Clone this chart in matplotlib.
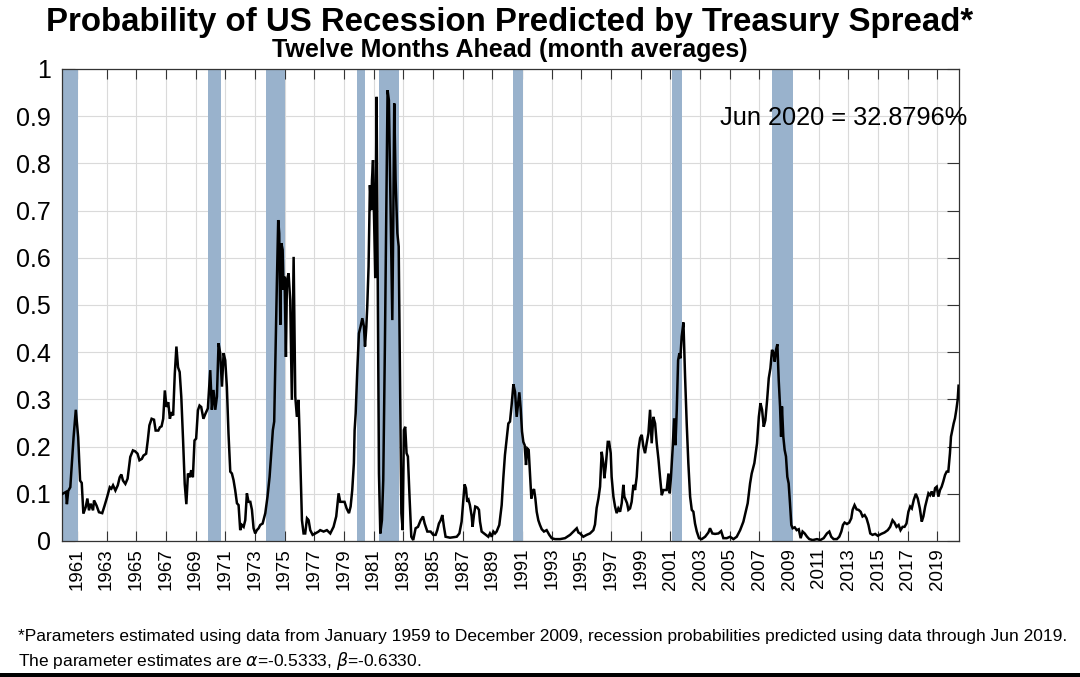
import matplotlib
matplotlib.use("Agg")
import matplotlib.pyplot as plt
from matplotlib.patches import Rectangle
import numpy as np

plt.rcParams['font.family'] = ['Liberation Sans', 'DejaVu Sans']

# ---- data ----
years_1960s = [1960.04, 1960.27, 1960.33, 1960.42, 1960.56, 1960.78, 1960.93, 1961.09, 1961.22, 1961.33,
               1961.44, 1961.60, 1961.71, 1961.82, 1961.93, 1962.09, 1962.16, 1962.33, 1962.49, 1962.71,
               1962.87, 1963.04, 1963.22, 1963.33, 1963.44, 1963.60, 1963.76, 1963.89, 1964.00, 1964.11,
               1964.27, 1964.42, 1964.60, 1964.78, 1964.93, 1965.09, 1965.22, 1965.38, 1965.49, 1965.67,
               1965.78, 1965.89, 1966.04, 1966.20, 1966.31, 1966.49, 1966.60, 1966.71, 1966.82, 1966.93,
               1967.04, 1967.16, 1967.27, 1967.38, 1967.49, 1967.60, 1967.71, 1967.82, 1967.93, 1968.04,
               1968.16, 1968.27, 1968.38, 1968.49, 1968.60, 1968.71, 1968.82, 1968.93, 1969.04, 1969.16,
               1969.27, 1969.38, 1969.53, 1969.67, 1969.83, 1969.99]
prob_1960s = [0.100, 0.104, 0.078, 0.106, 0.114, 0.220, 0.278, 0.220, 0.128, 0.123,
              0.058, 0.072, 0.090, 0.065, 0.079, 0.065, 0.086, 0.075, 0.061, 0.059,
              0.075, 0.093, 0.114, 0.111, 0.118, 0.107, 0.118, 0.135, 0.141, 0.128,
              0.121, 0.132, 0.178, 0.192, 0.190, 0.185, 0.171, 0.174, 0.181, 0.185,
              0.213, 0.245, 0.259, 0.257, 0.234, 0.234, 0.241, 0.243, 0.259, 0.319,
              0.284, 0.294, 0.259, 0.273, 0.266, 0.354, 0.412, 0.368, 0.358, 0.305,
              0.213, 0.121, 0.078, 0.143, 0.135, 0.150, 0.135, 0.213, 0.217, 0.277,
              0.287, 0.284, 0.259, 0.270, 0.281, 0.362]

years_1970s = [1970.10, 1970.21, 1970.33, 1970.44, 1970.55, 1970.66, 1970.78, 1970.89, 1971.00, 1971.11,
               1971.22, 1971.34, 1971.45, 1971.56, 1971.67, 1971.79, 1971.90, 1972.01, 1972.12, 1972.24,
               1972.35, 1972.46, 1972.57, 1972.69, 1972.80, 1972.91, 1973.02, 1973.13, 1973.25, 1973.36,
               1973.52, 1973.70, 1973.85, 1973.99, 1974.10, 1974.21, 1974.30, 1974.37, 1974.48, 1974.57,
               1974.64, 1974.71, 1974.78, 1974.87, 1974.93, 1975.00, 1975.09, 1975.16, 1975.27, 1975.38,
               1975.49, 1975.61, 1975.72, 1975.83, 1975.94, 1976.01, 1976.10, 1976.17, 1976.28, 1976.39,
               1976.51, 1976.62, 1976.73, 1976.89, 1977.07, 1977.29, 1977.40, 1977.63, 1977.85, 1978.08,
               1978.30, 1978.48, 1978.64, 1978.75, 1978.87, 1979.04, 1979.18, 1979.34, 1979.45, 1979.56,
               1979.67, 1979.72, 1979.79, 1979.90]
prob_1970s = [0.278, 0.320, 0.278, 0.306, 0.419, 0.398, 0.327, 0.398, 0.383, 0.327,
              0.228, 0.147, 0.143, 0.129, 0.108, 0.080, 0.076, 0.023, 0.034, 0.030,
              0.044, 0.101, 0.083, 0.083, 0.066, 0.027, 0.016, 0.023, 0.027, 0.034,
              0.037, 0.059, 0.094, 0.136, 0.186, 0.235, 0.253, 0.369, 0.546, 0.680,
              0.652, 0.458, 0.631, 0.617, 0.532, 0.560, 0.390, 0.553, 0.567, 0.510,
              0.299, 0.602, 0.306, 0.263, 0.299, 0.228, 0.122, 0.044, 0.016, 0.016,
              0.048, 0.044, 0.023, 0.013, 0.016, 0.020, 0.023, 0.020, 0.023, 0.016,
              0.030, 0.052, 0.101, 0.083, 0.083, 0.083, 0.069, 0.059, 0.073, 0.108,
              0.165, 0.235, 0.270, 0.362]

years_1980s = [1980.01, 1980.12, 1980.24, 1980.35, 1980.42, 1980.51, 1980.57, 1980.66, 1980.75, 1980.84,
               1980.89, 1980.96, 1981.02, 1981.11, 1981.20, 1981.29, 1981.36, 1981.45, 1981.56, 1981.65,
               1981.76, 1981.85, 1981.94, 1982.03, 1982.15, 1982.26, 1982.33, 1982.39, 1982.48, 1982.60,
               1982.69, 1982.78, 1982.87, 1982.96, 1983.04, 1983.13, 1983.22, 1983.31, 1983.43, 1983.54,
               1983.67, 1983.83, 1983.99, 1984.17, 1984.33, 1984.44, 1984.62, 1984.84, 1985.02, 1985.18,
               1985.29, 1985.40, 1985.52, 1985.63, 1985.74, 1985.85, 1986.15, 1986.37, 1986.60, 1986.78,
               1986.93, 1987.04, 1987.13, 1987.22, 1987.31, 1987.40, 1987.49, 1987.61, 1987.67, 1987.76,
               1987.85, 1987.99, 1988.10, 1988.17, 1988.28, 1988.44, 1988.57, 1988.73, 1988.84, 1988.96,
               1989.07, 1989.18, 1989.29, 1989.47, 1989.63, 1989.74, 1989.85, 1989.97]
prob_1980s = [0.440, 0.454, 0.472, 0.454, 0.412, 0.454, 0.496, 0.581, 0.754, 0.701,
              0.765, 0.807, 0.701, 0.557, 0.941, 0.482, 0.143, 0.016, 0.044, 0.129,
              0.412, 0.694, 0.955, 0.934, 0.694, 0.468, 0.694, 0.927, 0.765, 0.652,
              0.624, 0.341, 0.059, 0.023, 0.235, 0.242, 0.186, 0.179, 0.087, 0.009,
              0.002, 0.027, 0.030, 0.044, 0.052, 0.037, 0.020, 0.020, 0.013, 0.013,
              0.023, 0.037, 0.044, 0.055, 0.030, 0.009, 0.007, 0.008, 0.009, 0.016,
              0.041, 0.083, 0.120, 0.112, 0.083, 0.087, 0.076, 0.052, 0.030, 0.055,
              0.073, 0.071, 0.066, 0.041, 0.020, 0.016, 0.013, 0.009, 0.016, 0.009,
              0.020, 0.016, 0.020, 0.034, 0.076, 0.133, 0.182, 0.218]

years_1990s = [1990.08, 1990.19, 1990.30, 1990.42, 1990.53, 1990.64, 1990.73, 1990.82, 1990.91, 1991.00,
               1991.09, 1991.18, 1991.27, 1991.36, 1991.45, 1991.54, 1991.63, 1991.72, 1991.81, 1991.90,
               1991.99, 1992.10, 1992.21, 1992.33, 1992.48, 1992.66, 1992.84, 1993.00, 1993.22, 1993.56,
               1993.90, 1994.24, 1994.46, 1994.69, 1994.80, 1994.91, 1995.13, 1995.36, 1995.58, 1995.81,
               1995.92, 1996.03, 1996.15, 1996.26, 1996.37, 1996.48, 1996.55, 1996.64, 1996.78, 1996.87,
               1996.98, 1997.04, 1997.16, 1997.27, 1997.38, 1997.49, 1997.61, 1997.72, 1997.83, 1997.90,
               1997.99, 1998.08, 1998.17, 1998.28, 1998.39, 1998.51, 1998.62, 1998.73, 1998.84, 1998.96,
               1999.07, 1999.18, 1999.29, 1999.40, 1999.52, 1999.63, 1999.74, 1999.85, 1999.97]
prob_1990s = [0.249, 0.253, 0.288, 0.332, 0.316, 0.263, 0.288, 0.315, 0.281, 0.232,
              0.210, 0.203, 0.161, 0.196, 0.193, 0.140, 0.090, 0.105, 0.110, 0.090,
              0.062, 0.044, 0.034, 0.025, 0.020, 0.023, 0.013, 0.006, 0.004, 0.004,
              0.006, 0.013, 0.020, 0.027, 0.018, 0.016, 0.009, 0.013, 0.016, 0.023,
              0.035, 0.070, 0.090, 0.115, 0.189, 0.165, 0.133, 0.157, 0.210, 0.210,
              0.186, 0.136, 0.094, 0.073, 0.059, 0.069, 0.062, 0.080, 0.119, 0.094,
              0.087, 0.080, 0.066, 0.069, 0.083, 0.119, 0.108, 0.136, 0.193, 0.218,
              0.225, 0.200, 0.186, 0.207, 0.228, 0.278, 0.207, 0.263, 0.249]

years_2000s = [2000.08, 2000.20, 2000.30, 2000.42, 2000.53, 2000.64, 2000.75, 2000.87, 2000.96, 2001.04,
               2001.16, 2001.25, 2001.34, 2001.43, 2001.52, 2001.61, 2001.67, 2001.76, 2001.88, 2001.99,
               2002.10, 2002.21, 2002.33, 2002.44, 2002.55, 2002.66, 2002.78, 2002.93, 2003.11, 2003.34,
               2003.56, 2003.67, 2003.83, 2004.01, 2004.24, 2004.42, 2004.57, 2004.80, 2005.02, 2005.25,
               2005.47, 2005.70, 2005.92, 2006.08, 2006.21, 2006.37, 2006.48, 2006.66, 2006.84, 2006.96,
               2007.07, 2007.18, 2007.29, 2007.40, 2007.52, 2007.63, 2007.74, 2007.85, 2007.96, 2008.03,
               2008.12, 2008.21, 2008.30, 2008.39, 2008.46, 2008.52, 2008.61, 2008.70, 2008.79, 2008.88,
               2008.97, 2009.06, 2009.15, 2009.24, 2009.38, 2009.51, 2009.65, 2009.78, 2009.91]
prob_2000s = [0.207, 0.172, 0.136, 0.097, 0.108, 0.108, 0.108, 0.143, 0.101, 0.136,
              0.200, 0.260, 0.203, 0.278, 0.383, 0.398, 0.387, 0.433, 0.463, 0.348,
              0.249, 0.165, 0.094, 0.066, 0.062, 0.037, 0.020, 0.006, 0.004, 0.009,
              0.018, 0.027, 0.016, 0.015, 0.016, 0.021, 0.006, 0.006, 0.009, 0.004,
              0.009, 0.023, 0.041, 0.062, 0.080, 0.122, 0.143, 0.165, 0.207, 0.263,
              0.292, 0.278, 0.242, 0.256, 0.299, 0.345, 0.366, 0.405, 0.398, 0.380,
              0.405, 0.417, 0.341, 0.285, 0.221, 0.285, 0.221, 0.193, 0.179, 0.136,
              0.122, 0.080, 0.034, 0.027, 0.029, 0.023, 0.025, 0.006, 0.020]

years_2010s = [2010.05, 2010.21, 2010.36, 2010.59, 2010.88, 2011.10, 2011.33, 2011.55, 2011.71, 2011.84,
               2012.00, 2012.22, 2012.38, 2012.52, 2012.63, 2012.74, 2012.90, 2013.05, 2013.19, 2013.28,
               2013.41, 2013.55, 2013.68, 2013.82, 2013.95, 2014.09, 2014.22, 2014.35, 2014.47, 2014.62,
               2014.80, 2014.98, 2015.21, 2015.43, 2015.65, 2015.81, 2015.97, 2016.10, 2016.24, 2016.38,
               2016.51, 2016.65, 2016.78, 2016.91, 2017.04, 2017.16, 2017.27, 2017.40, 2017.54, 2017.67,
               2017.81, 2017.94, 2018.05, 2018.17, 2018.30, 2018.39, 2018.50, 2018.61, 2018.73, 2018.84,
               2018.95, 2019.06, 2019.17, 2019.28, 2019.39, 2019.51, 2019.62, 2019.73, 2019.84, 2019.91,
               2020.00, 2020.09, 2020.18, 2020.27, 2020.36, 2020.42]
prob_2010s = [0.016, 0.009, 0.004, 0.002, 0.004, 0.002, 0.006, 0.016, 0.020, 0.009,
              0.004, 0.004, 0.009, 0.020, 0.034, 0.039, 0.036, 0.039, 0.048, 0.066,
              0.076, 0.067, 0.066, 0.062, 0.052, 0.055, 0.048, 0.034, 0.016, 0.013,
              0.015, 0.011, 0.015, 0.018, 0.023, 0.030, 0.044, 0.039, 0.030, 0.034,
              0.023, 0.030, 0.030, 0.037, 0.062, 0.073, 0.069, 0.087, 0.100, 0.090,
              0.069, 0.041, 0.052, 0.073, 0.090, 0.101, 0.097, 0.105, 0.094, 0.112,
              0.115, 0.094, 0.108, 0.115, 0.126, 0.140, 0.147, 0.147, 0.186, 0.221,
              0.235, 0.249, 0.260, 0.278, 0.299, 0.329]

recession_starts = [1960.00, 1969.84, 1973.75, 1979.90, 1981.38, 1990.41, 2001.08, 2007.84]
recession_ends = [1961.08, 1970.71, 1975.05, 1980.42, 1982.73, 1991.04, 2001.75, 2009.28]

tick_years = list(range(1961, 2020, 2))
y_ticks = [0, 0.1, 0.2, 0.3, 0.4, 0.5, 0.6, 0.7, 0.8, 0.9, 1]
y_tick_labels = ['0', '0.1', '0.2', '0.3', '0.4', '0.5', '0.6', '0.7', '0.8', '0.9', '1']

title = 'Probability of US Recession Predicted by Treasury Spread*'
subtitle = 'Twelve Months Ahead (month averages)'
annotation = 'Jun 2020 = 32.8796%'
footnote1 = ('*Parameters estimated using data from January 1959 to December 2009, '
             'recession probabilities predicted using data through Jun 2019.')
footnote2 = r'The parameter estimates are $\alpha$=-0.5333, $\beta$=-0.6330.'

# ---- figure ----
W, H = 1080, 677
fig = plt.figure(figsize=(W / 100, H / 100), dpi=100)
fig.patch.set_facecolor('white')

ax = fig.add_axes([62 / W, 1 - 541 / H, (959 - 62) / W, (541 - 69) / H])

x = np.concatenate([years_1960s, years_1970s, years_1980s, years_1990s, years_2000s, years_2010s])
y = np.concatenate([prob_1960s, prob_1970s, prob_1980s, prob_1990s, prob_2000s, prob_2010s])

for s, e in zip(recession_starts, recession_ends):
    ax.axvspan(s, e, color='#99b2cc', lw=0, zorder=1)

ax.plot(x, y, color='black', lw=1.8, zorder=3, solid_joinstyle='miter')

ax.set_xlim(1960.0, 2020.45)
ax.set_ylim(0, 1)
ax.set_xticks(tick_years)
ax.set_xticklabels([str(t) for t in tick_years], rotation=90, fontsize=13.5)
ax.set_yticks(y_ticks)
ax.set_yticklabels(y_tick_labels, fontsize=18)

ax.set_axisbelow(True)
ax.grid(True, color='#dadada', lw=0.8)
ax.tick_params(axis='both', direction='in', top=True, right=True, width=0.8, color='#333333')
ax.tick_params(axis='x', length=7, pad=5)
ax.tick_params(axis='y', length=9, pad=8)
for sp in ax.spines.values():
    sp.set_color('#333333')
    sp.set_linewidth(0.9)

ax.text((720 - 62) / (959 - 62), 0.896, annotation, transform=ax.transAxes,
        ha='left', va='center', fontsize=18.3, zorder=5)

fig.text(510 / W, 1 - 22 / H, title, ha='center', va='center', fontsize=23.8, fontweight='bold')
fig.text(510 / W, 1 - 50 / H, subtitle, ha='center', va='center', fontsize=18, fontweight='bold')

fig.text(18 / W, 1 - 637 / H, footnote1, ha='left', va='center', fontsize=12.5)
fig.text(18 / W, 1 - 661 / H, footnote2, ha='left', va='center', fontsize=12.5)

fig.patches.append(Rectangle((0, 0), 1, 4 / H, transform=fig.transFigure,
                             facecolor='black', edgecolor='none', zorder=10))

fig.savefig('out.png', dpi=100)
